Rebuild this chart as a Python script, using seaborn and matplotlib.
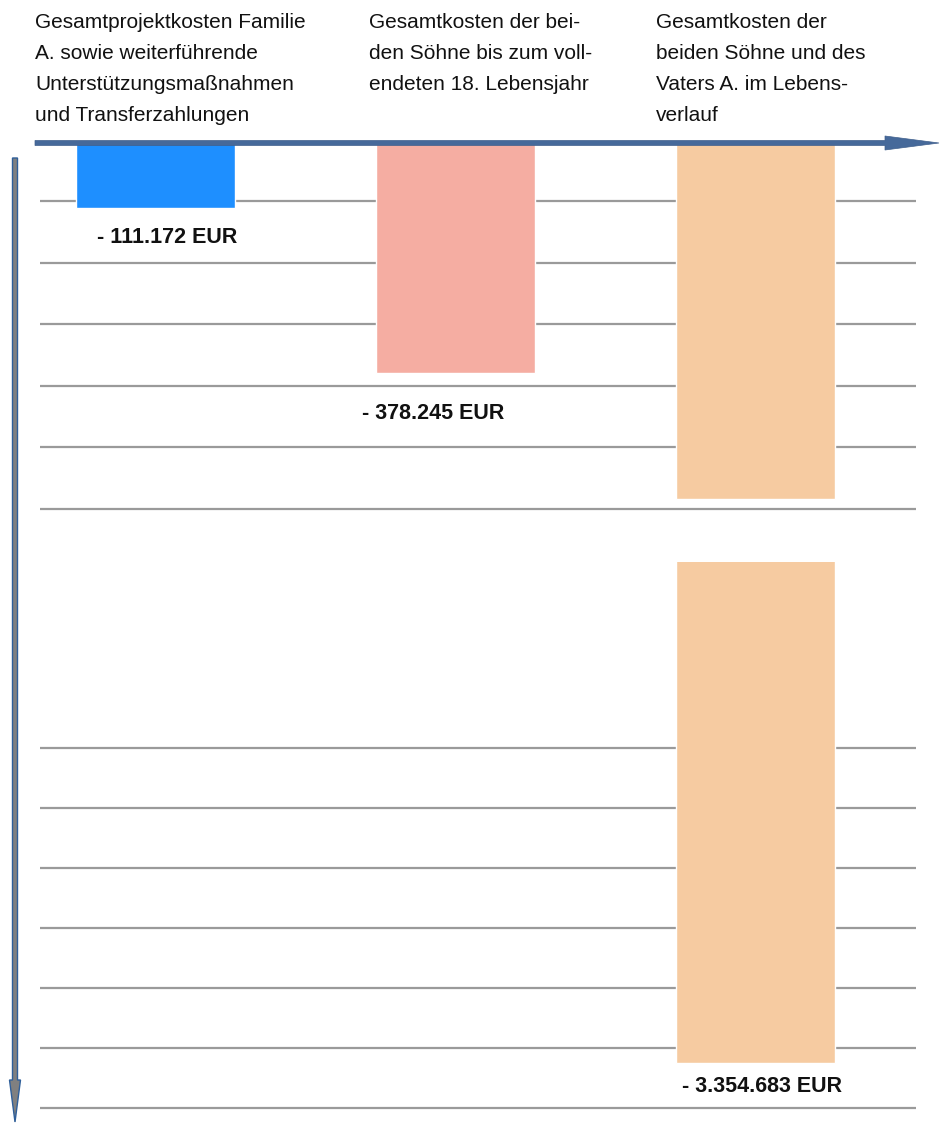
import numpy as np
import pandas as pd
import matplotlib
matplotlib.use("Agg")
import matplotlib.pyplot as plt
import seaborn as sns

# Kosten in EUR (als positive Beträge, nach unten aufgetragen)
categories = ["Familie A.", "Söhne bis 18", "Söhne und Vater"]
costs = [111172, 378245, 3354683]
bar_colors = ["#1E8FFF", "#F5ADA2", "#F6CBA1"]
headers = [
    "Gesamtprojektkosten Familie\nA. sowie weiterführende\nUnterstützungsmaßnahmen\nund Transferzahlungen",
    "Gesamtkosten der bei-\nden Söhne bis zum voll-\nendeten 18. Lebensjahr",
    "Gesamtkosten der\nbeiden Söhne und des\nVaters A. im Lebens-\nverlauf",
]

# broken axis: upper part 0..break_low, lower part break_high..end
break_low = 583_700
break_high = 2_520_000
top_grid = np.arange(100_000, 600_001, 100_000)
bottom_grid = np.arange(2_830_000, 3_430_001, 100_000)

sns.set_style("white")
plt.rcParams["font.family"] = ["Liberation Sans", "DejaVu Sans"]

W, H = 940, 1124
fig = plt.figure(figsize=(W / 100, H / 100), dpi=100)


def px_rect(x0, y0, x1, y1):
    return [x0 / W, 1 - y1 / H, (x1 - x0) / W, (y1 - y0) / H]


df = pd.DataFrame({"cat": categories, "cost": costs})
df["cost_top"] = np.minimum(df["cost"], break_low)

ax_top = fig.add_axes(px_rect(40, 140, 916, 520))
ax_bot = fig.add_axes(px_rect(40, 562, 916, 1115))

for ax, col, ylim, grid in [
    (ax_top, "cost_top", (617_900, 0), top_grid),
    (ax_bot, "cost", (3_442_000, break_high), bottom_grid),
]:
    sns.barplot(data=df, x="cat", y=col, hue="cat", palette=bar_colors,
                saturation=1, width=0.533, legend=False, ax=ax, zorder=3)
    ax.set_ylim(*ylim)
    ax.set_xlim(-0.385, 2.535)
    ax.set_yticks(grid)
    ax.grid(axis="y", color="#9a9a9a", linewidth=1.6, zorder=1)
    ax.set_axisbelow(True)
    ax.tick_params(left=False, bottom=False, labelleft=False, labelbottom=False)
    ax.set_xlabel("")
    ax.set_ylabel("")
    for s in ax.spines.values():
        s.set_visible(False)
    ax.patch.set_alpha(0)

# value labels below the bar ends (offsets in pixels)
label_offsets = [(12, -29), (-22, -41), (6, -24)]
for i, (v, off) in enumerate(zip(costs, label_offsets)):
    txt = "- " + f"{v:,}".replace(",", ".") + " EUR"
    ax = ax_top if v <= break_low else ax_bot
    ax.annotate(txt, xy=(i, v), xytext=off, textcoords="offset pixels",
                ha="center", va="center", fontsize=15.5, fontweight="bold",
                color="#111111", zorder=5)

# headers
header_x = [35, 369, 656]
for x, t in zip(header_x, headers):
    fig.text(x / W, 1 - 13 / H, t, ha="left", va="top", fontsize=15,
             linespacing=1.8, color="#111111")

# overlay for the two arrows
ov = fig.add_axes([0, 0, 1, 1])
ov.set_xlim(0, W)
ov.set_ylim(H, 0)
ov.axis("off")
ov.patch.set_alpha(0)
ov.arrow(35, 143, 850, 0, width=5, head_width=14, head_length=54,
         length_includes_head=False, color="#46699A", ec="#3f5f8c", lw=0.5, zorder=10)
ov.arrow(15, 158, 0, 922, width=5, head_width=11, head_length=42,
         fc="#808080", ec="#2f5f9a", lw=1, zorder=10)

fig.savefig("out.png", dpi=100)
